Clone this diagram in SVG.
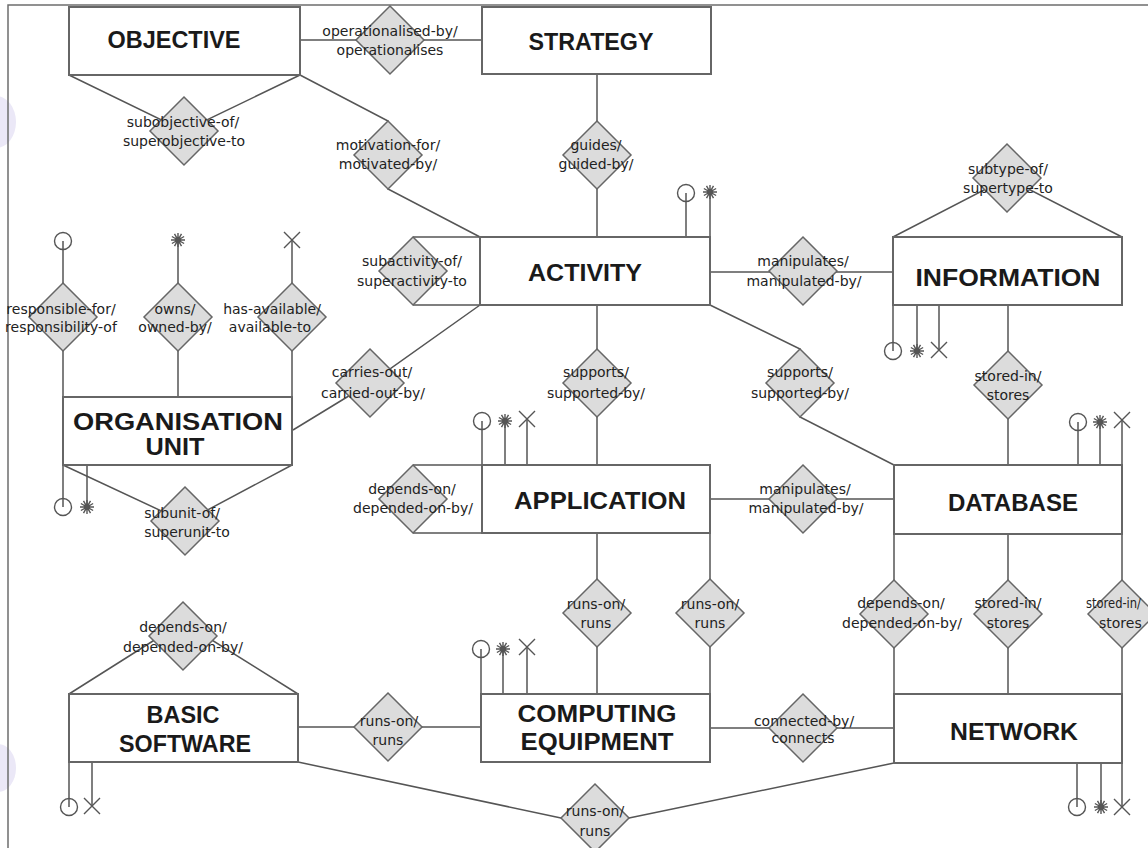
<svg xmlns="http://www.w3.org/2000/svg" xmlns:xlink="http://www.w3.org/1999/xlink" width="1148" height="848" viewBox="0 0 1148 848">
<style>
.bg{fill:#fff}
.frame{stroke:#6e6e6e;stroke-width:1.5;fill:none}
.wm{fill:#ebe8f7}
.box{fill:#fff;stroke:#666;stroke-width:2}
.ln{stroke:#555;stroke-width:1.5;fill:none}
.dia{fill:#dcdcdc;stroke:#666;stroke-width:1.5}
.sym{stroke:#555;stroke-width:1.4;fill:none}
.et{font-family:"Liberation Sans",Arial,sans-serif;font-weight:bold;font-size:24px;fill:#1a1a1a;text-anchor:middle}
.rt{font-family:"DejaVu Sans",Verdana,sans-serif;font-size:14px;fill:#222;text-anchor:middle}
</style>
<defs>
<path id="dm" d="M0,-34 L34,0 L0,34 L-34,0 Z"/>
<g id="circ"><circle r="8.5"/></g>
<g id="star"><path d="M-7,0 H7 M0,-7 V7 M-6.1,-3.5 L6.1,3.5 M-6.1,3.5 L6.1,-3.5 M-3.5,-6.1 L3.5,6.1 M-3.5,6.1 L3.5,-6.1"/><circle r="2.5"/></g>
<g id="ex"><path d="M-8,-8 L8,8 M-8,8 L8,-8"/></g>
</defs>
<rect class="bg" x="0" y="0" width="1148" height="848"/>
<g id="watermark">
<ellipse class="wm" cx="-4" cy="122" rx="20" ry="26"/>
<ellipse class="wm" cx="-2" cy="768" rx="18" ry="24"/>
</g>
<path class="frame" d="M8,848 V5 H1148"/>

<g id="connectors">
<path class="ln" d="M300,40 H482"/>
<path class="ln" d="M69,75 L184,131 L300,75"/>
<path class="ln" d="M300,75 L388,121 L388,189 L480,237"/>
<path class="ln" d="M597,74 V237"/>
<path class="ln" d="M413,237 H480 M413,305 H480"/>
<path class="ln" d="M686,193 V237 M710,192 V237"/>
<path class="ln" d="M710,272 H893"/>
<path class="ln" d="M293,430 L370,383 L480,305"/>
<path class="ln" d="M597,305 V465"/>
<path class="ln" d="M710,305 L800,349 L800,417 L894,465"/>
<path class="ln" d="M893,237 L1007,178 L1122,237"/>
<path class="ln" d="M893,305 V351 M917,305 V351 M939,305 V350"/>
<path class="ln" d="M1008,305 V465"/>
<path class="ln" d="M63,241 V507 M178,240 V397 M292,240 V397 M87,465 V507"/>
<path class="ln" d="M63,465 L185,522 L292,465"/>
<path class="ln" d="M482,421 V465 M505,421 V465 M527,419 V465"/>
<path class="ln" d="M413,465 H482 M413,533 H482"/>
<path class="ln" d="M710,499 H894"/>
<path class="ln" d="M597,533 V694 M710,533 V694"/>
<path class="ln" d="M1078,422 V465 M1100,422 V465 M1122,420 V807"/>
<path class="ln" d="M894,534 V694 M1008,534 V694"/>
<path class="ln" d="M481,649 V694 M503,649 V694 M527,647 V694"/>
<path class="ln" d="M298,727 H481"/>
<path class="ln" d="M710,728 H894"/>
<path class="ln" d="M69,694 L183,622 L298,694"/>
<path class="ln" d="M69,762 V807 M92,762 V806"/>
<path class="ln" d="M298,762 L561,818 M629,818 L894,763"/>
<path class="ln" d="M1077,763 V807 M1101,763 V807"/>
</g>

<g id="symbols">
<use href="#circ" class="sym" x="686" y="193"/>
<use href="#star" class="sym" x="710" y="192"/>
<use href="#circ" class="sym" x="893" y="351"/>
<use href="#star" class="sym" x="917" y="351"/>
<use href="#ex" class="sym" x="939" y="350"/>
<use href="#circ" class="sym" x="63" y="241"/>
<use href="#star" class="sym" x="178" y="240"/>
<use href="#ex" class="sym" x="292" y="240"/>
<use href="#circ" class="sym" x="63" y="507"/>
<use href="#star" class="sym" x="87" y="507"/>
<use href="#circ" class="sym" x="482" y="421"/>
<use href="#star" class="sym" x="505" y="421"/>
<use href="#ex" class="sym" x="527" y="419"/>
<use href="#circ" class="sym" x="1078" y="422"/>
<use href="#star" class="sym" x="1100" y="422"/>
<use href="#ex" class="sym" x="1122" y="420"/>
<use href="#circ" class="sym" x="481" y="649"/>
<use href="#star" class="sym" x="503" y="649"/>
<use href="#ex" class="sym" x="527" y="647"/>
<use href="#circ" class="sym" x="69" y="807"/>
<use href="#ex" class="sym" x="92" y="806"/>
<use href="#circ" class="sym" x="1077" y="807"/>
<use href="#star" class="sym" x="1101" y="807"/>
<use href="#ex" class="sym" x="1122" y="807"/>
</g>

<g id="objective"><rect class="box" x="69" y="7" width="231" height="68"/><text class="et" x="174" y="48" textLength="133" lengthAdjust="spacingAndGlyphs">OBJECTIVE</text></g>
<g id="strategy"><rect class="box" x="482" y="7" width="229" height="67"/><text class="et" x="591" y="50" textLength="125" lengthAdjust="spacingAndGlyphs">STRATEGY</text></g>
<g id="activity"><rect class="box" x="480" y="237" width="230" height="68"/><text class="et" x="585" y="281" textLength="114" lengthAdjust="spacingAndGlyphs">ACTIVITY</text></g>
<g id="information"><rect class="box" x="893" y="237" width="229" height="68"/><text class="et" x="1008" y="286" textLength="185" lengthAdjust="spacingAndGlyphs">INFORMATION</text></g>
<g id="organisation-unit"><rect class="box" x="63" y="397" width="229" height="68"/><text class="et" x="178" y="430" textLength="210" lengthAdjust="spacingAndGlyphs">ORGANISATION</text><text class="et" x="175" y="455" textLength="59" lengthAdjust="spacingAndGlyphs">UNIT</text></g>
<g id="application"><rect class="box" x="482" y="465" width="228" height="68"/><text class="et" x="600" y="509" textLength="172" lengthAdjust="spacingAndGlyphs">APPLICATION</text></g>
<g id="database"><rect class="box" x="894" y="465" width="228" height="69"/><text class="et" x="1013" y="511" textLength="130" lengthAdjust="spacingAndGlyphs">DATABASE</text></g>
<g id="basic-software"><rect class="box" x="69" y="694" width="229" height="68"/><text class="et" x="183" y="723" textLength="73" lengthAdjust="spacingAndGlyphs">BASIC</text><text class="et" x="185" y="752" textLength="132" lengthAdjust="spacingAndGlyphs">SOFTWARE</text></g>
<g id="computing-equipment"><rect class="box" x="481" y="694" width="229" height="68"/><text class="et" x="597" y="722" textLength="159" lengthAdjust="spacingAndGlyphs">COMPUTING</text><text class="et" x="597" y="750" textLength="153" lengthAdjust="spacingAndGlyphs">EQUIPMENT</text></g>
<g id="network"><rect class="box" x="894" y="694" width="228" height="69"/><text class="et" x="1014" y="740" textLength="128" lengthAdjust="spacingAndGlyphs">NETWORK</text></g>

<g id="rel-operationalised"><use href="#dm" class="dia" x="390" y="40"/><text class="rt" x="390"><tspan x="390" y="36">operationalised-by/</tspan><tspan x="390" y="55">operationalises</tspan></text></g>
<g id="rel-subobjective"><use href="#dm" class="dia" x="184" y="131"/><text class="rt"><tspan x="183" y="127">subobjective-of/</tspan><tspan x="184" y="146">superobjective-to</tspan></text></g>
<g id="rel-motivation"><use href="#dm" class="dia" x="388" y="155"/><text class="rt"><tspan x="388" y="150">motivation-for/</tspan><tspan x="388" y="169">motivated-by/</tspan></text></g>
<g id="rel-guides"><use href="#dm" class="dia" x="597" y="155"/><text class="rt"><tspan x="596" y="150">guides/</tspan><tspan x="596" y="169">guided-by/</tspan></text></g>
<g id="rel-subtype"><use href="#dm" class="dia" x="1007" y="178"/><text class="rt"><tspan x="1008" y="174">subtype-of/</tspan><tspan x="1008" y="193">supertype-to</tspan></text></g>
<g id="rel-subactivity"><use href="#dm" class="dia" x="413" y="271"/><text class="rt"><tspan x="412" y="266">subactivity-of/</tspan><tspan x="412" y="286">superactivity-to</tspan></text></g>
<g id="rel-manipulates-info"><use href="#dm" class="dia" x="803" y="271"/><text class="rt"><tspan x="803" y="266">manipulates/</tspan><tspan x="804" y="286">manipulated-by/</tspan></text></g>
<g id="rel-responsible"><use href="#dm" class="dia" x="63" y="317"/><text class="rt"><tspan x="61" y="314">responsible-for/</tspan><tspan x="61" y="332">responsibility-of</tspan></text></g>
<g id="rel-owns"><use href="#dm" class="dia" x="178" y="317"/><text class="rt"><tspan x="175" y="314">owns/</tspan><tspan x="175" y="332">owned-by/</tspan></text></g>
<g id="rel-available"><use href="#dm" class="dia" x="292" y="317"/><text class="rt"><tspan x="272" y="314">has-available/</tspan><tspan x="270" y="332">available-to</tspan></text></g>
<g id="rel-carries-out"><use href="#dm" class="dia" x="370" y="383"/><text class="rt"><tspan x="372" y="377">carries-out/</tspan><tspan x="373" y="398">carried-out-by/</tspan></text></g>
<g id="rel-supports-app"><use href="#dm" class="dia" x="597" y="383"/><text class="rt"><tspan x="596" y="377">supports/</tspan><tspan x="596" y="398">supported-by/</tspan></text></g>
<g id="rel-supports-db"><use href="#dm" class="dia" x="800" y="383"/><text class="rt"><tspan x="800" y="377">supports/</tspan><tspan x="800" y="398">supported-by/</tspan></text></g>
<g id="rel-stored-info"><use href="#dm" class="dia" x="1008" y="385"/><text class="rt"><tspan x="1008" y="381">stored-in/</tspan><tspan x="1008" y="400">stores</tspan></text></g>
<g id="rel-depends-app"><use href="#dm" class="dia" x="413" y="499"/><text class="rt"><tspan x="412" y="494">depends-on/</tspan><tspan x="413" y="513">depended-on-by/</tspan></text></g>
<g id="rel-manipulates-db"><use href="#dm" class="dia" x="803" y="499"/><text class="rt"><tspan x="805" y="494">manipulates/</tspan><tspan x="806" y="513">manipulated-by/</tspan></text></g>
<g id="rel-subunit"><use href="#dm" class="dia" x="185" y="521"/><text class="rt"><tspan x="182" y="518">subunit-of/</tspan><tspan x="187" y="537">superunit-to</tspan></text></g>
<g id="rel-runs-app"><use href="#dm" class="dia" x="597" y="613"/><text class="rt"><tspan x="596" y="609">runs-on/</tspan><tspan x="596" y="628">runs</tspan></text></g>
<g id="rel-runs-app2"><use href="#dm" class="dia" x="710" y="613"/><text class="rt"><tspan x="710" y="609">runs-on/</tspan><tspan x="710" y="628">runs</tspan></text></g>
<g id="rel-depends-db"><use href="#dm" class="dia" x="894" y="614"/><text class="rt"><tspan x="901" y="608">depends-on/</tspan><tspan x="902" y="628">depended-on-by/</tspan></text></g>
<g id="rel-stored-db"><use href="#dm" class="dia" x="1008" y="614"/><text class="rt"><tspan x="1008" y="608">stored-in/</tspan><tspan x="1008" y="628">stores</tspan></text></g>
<g id="rel-stored-net"><use href="#dm" class="dia" x="1122" y="614"/><text class="rt" style="text-anchor:start"><tspan x="1086" y="608" textLength="55" lengthAdjust="spacingAndGlyphs">stored-in/</tspan><tspan x="1099" y="628">stores</tspan></text></g>
<g id="rel-depends-basic"><use href="#dm" class="dia" x="183" y="636"/><text class="rt"><tspan x="183" y="632">depends-on/</tspan><tspan x="183" y="652">depended-on-by/</tspan></text></g>
<g id="rel-runs-basic"><use href="#dm" class="dia" x="388" y="727"/><text class="rt"><tspan x="389" y="726">runs-on/</tspan><tspan x="388" y="745">runs</tspan></text></g>
<g id="rel-connected"><use href="#dm" class="dia" x="803" y="728"/><text class="rt"><tspan x="804" y="726">connected-by/</tspan><tspan x="803" y="743">connects</tspan></text></g>
<g id="rel-runs-net"><use href="#dm" class="dia" x="595" y="818"/><text class="rt"><tspan x="595" y="816">runs-on/</tspan><tspan x="595" y="836">runs</tspan></text></g>
</svg>
